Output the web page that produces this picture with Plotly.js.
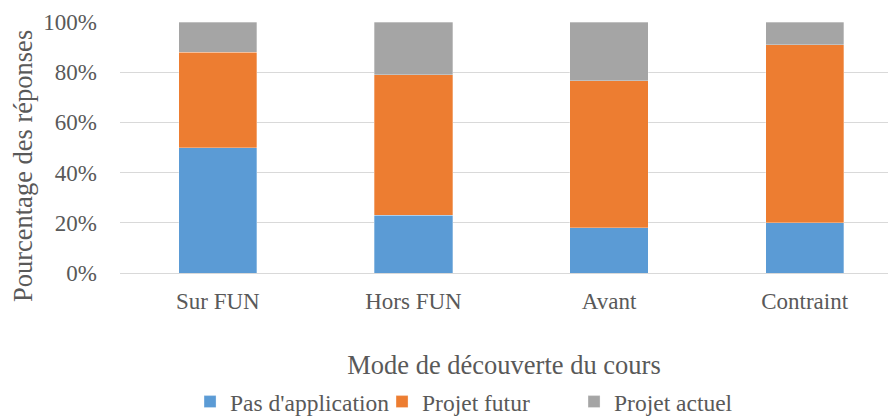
<!DOCTYPE html>
<html>
<head>
<meta charset="utf-8">
<script src="https://cdn.plot.ly/plotly-3.0.1.min.js"></script>
<style>
  html, body { margin: 0; padding: 0; background: #fff; }
  #chart { width: 888px; height: 419px; }
</style>
</head>
<body>
<div id="chart"></div>
<script>
// Mode de découverte du cours (catégories)
const categories = ["Sur FUN", "Hors FUN", "Avant", "Contraint"];

// Répartition des réponses, en pourcentage
const pasApplication = [50, 23, 18, 20];
const projetFutur = [38, 56, 58.5, 71];
const projetActuel = [12, 21, 23.5, 9];

const tickValues = [0, 20, 40, 60, 80, 100];
const tickLabels = ["0%", "20%", "40%", "60%", "80%", "100%"];

const yTitle = "Pourcentage des réponses";
const xTitle = "Mode de découverte du cours";

const textColor = "#595959";
const serif = "Liberation Serif";

function series(name, values, color) {
  return {
    type: "bar",
    name: name,
    x: categories,
    y: values,
    marker: { color: color, line: { color: "rgba(255,255,255,0.6)", width: 0.5 } },
    hoverinfo: "x+y+name"
  };
}

const data = [
  series("Pas d'application", pasApplication, "#5B9BD5"),
  series("Projet futur", projetFutur, "#ED7D31"),
  series("Projet actuel", projetActuel, "#A5A5A5")
];

const layout = {
  width: 888,
  height: 419,
  barmode: "stack",
  bargap: 0.6,
  paper_bgcolor: "#ffffff",
  plot_bgcolor: "#ffffff",
  margin: { l: 120, r: 0, t: 22, b: 146, autoexpand: false },
  font: { family: serif, color: textColor, size: 23 },
  xaxis: {
    type: "category",
    range: [-0.5, 3.426],
    showgrid: false,
    showline: false,
    zeroline: false,
    ticks: "",
    ticklabelstandoff: 12,
    tickfont: { family: serif, size: 23, color: textColor },
    automargin: false,
    title: {
      text: xTitle,
      font: { family: serif, size: 26.5, color: textColor },
      standoff: 46
    }
  },
  yaxis: {
    range: [0, 100],
    tickvals: tickValues,
    ticktext: tickLabels,
    showgrid: true,
    gridcolor: "#d9d9d9",
    gridwidth: 1,
    zeroline: true,
    zerolinecolor: "#d9d9d9",
    zerolinewidth: 1,
    showline: false,
    ticks: "",
    ticklabelstandoff: 22,
    tickfont: { family: serif, size: 23, color: textColor },
    automargin: false,
    title: { text: "" }
  },
  // vertical axis title, set slightly below the middle of the plot
  annotations: [{
    text: yTitle,
    textangle: -90,
    xref: "paper",
    yref: "paper",
    x: -0.1263,
    y: 0.426,
    xanchor: "center",
    yanchor: "middle",
    showarrow: false,
    font: { family: serif, size: 26.5, color: textColor }
  }],
  legend: {
    orientation: "h",
    xref: "container",
    yref: "container",
    x: 0.214,
    xanchor: "left",
    y: 0.041,
    yanchor: "middle",
    entrywidth: 147,
    entrywidthmode: "pixels",
    font: { family: serif, size: 23.5, color: textColor },
    traceorder: "normal",
    itemwidth: 30
  },
  showlegend: true
};

Plotly.newPlot("chart", data, layout, { displayModeBar: false, staticPlot: true });
</script>
</body>
</html>
